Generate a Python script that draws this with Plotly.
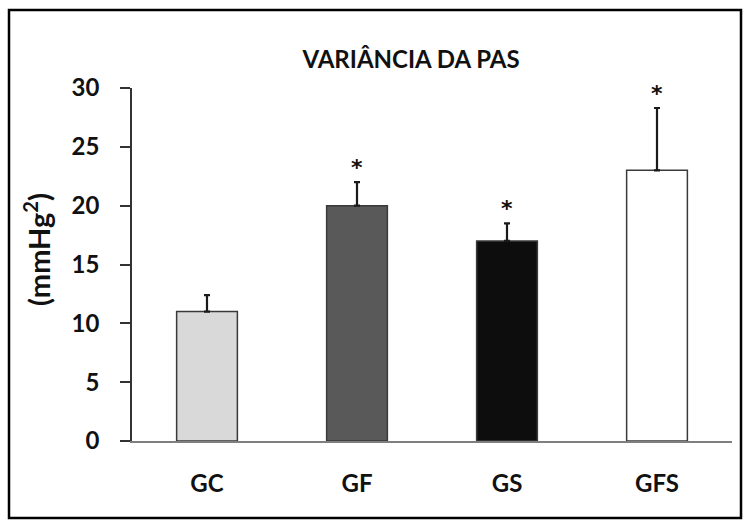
import plotly.graph_objects as go

categories = ["GC", "GF", "GS", "GFS"]
values = [11.0, 20.0, 17.0, 23.0]
errors = [1.4, 2.0, 1.5, 5.3]
colors = ["#d9d9d9", "#595959", "#0d0d0d", "#ffffff"]
significant = ["", "*", "*", "*"]
title_text = "VARIÂNCIA DA PAS"
y_label = "(mmHg<sup>2</sup>)"
y_ticks = [0, 5, 10, 15, 20, 25, 30]

W, H = 749, 523
L, R, T, B = 132, 17, 88, 82
pw, ph = W - L - R, H - T - B

FONT = "Lato"

fig = go.Figure()
fig.add_trace(go.Bar(
    x=categories, y=values, width=0.405,
    marker=dict(color=colors, line=dict(color="#3a3a3a", width=1.5)),
    error_y=dict(type="data", array=errors, arrayminus=[0] * len(errors),
                 symmetric=False, thickness=2.2, width=3, color="#1a1a1a"),
    showlegend=False, hoverinfo="skip",
))

for c, v, e, s in zip(categories, values, errors, significant):
    if s:
        fig.add_annotation(x=c, y=v + e, text="<b>" + s + "</b>", showarrow=False, yshift=15,
                           font=dict(family="DejaVu Sans", size=22, color="#111"),
                           xanchor="center", yanchor="middle")

def px_x(p):
    return (p - L) / pw

def px_y(p):
    return (H - B - p) / ph

fig.add_annotation(x=px_x(37), y=px_y(250), xref="paper", yref="paper",
                   text="<b>" + y_label + "</b>", textangle=-90, showarrow=False,
                   font=dict(family=FONT, size=29, color="#111"),
                   xanchor="center", yanchor="middle")

fig.add_shape(type="rect", xref="paper", yref="paper",
              x0=px_x(9), x1=px_x(741), y0=px_y(518), y1=px_y(10),
              line=dict(color="black", width=2.5), fillcolor="rgba(0,0,0,0)")

fig.update_layout(
    width=W, height=H,
    margin=dict(l=L, r=R, t=T, b=B),
    plot_bgcolor="white", paper_bgcolor="white",
    title=dict(text="<b>" + title_text + "</b>", x=px_x(411), xref="paper",
               xanchor="center", y=1 - 60 / H, yref="container", yanchor="middle",
               font=dict(family=FONT, size=24, color="#111")),
    xaxis=dict(range=[-0.5, 3.5], showline=True, linecolor="#7f7f7f", linewidth=2,
               ticks="", showgrid=False, zeroline=False,
               tickfont=dict(family=FONT, size=24, color="#111", weight="bold"),
               ticklabelstandoff=20),
    yaxis=dict(range=[0, 30], tickvals=y_ticks, showline=True, linecolor="#333",
               linewidth=1.5, ticks="outside", ticklen=10, tickwidth=1.5,
               tickcolor="#333", showgrid=False, zeroline=False,
               tickfont=dict(family=FONT, size=24, color="#111", weight="bold"),
               ticklabelstandoff=16),
    font=dict(family=FONT),
)

fig.write_html("out.html", config={"displayModeBar": False},
               post_script="document.body.style.margin='0';")
